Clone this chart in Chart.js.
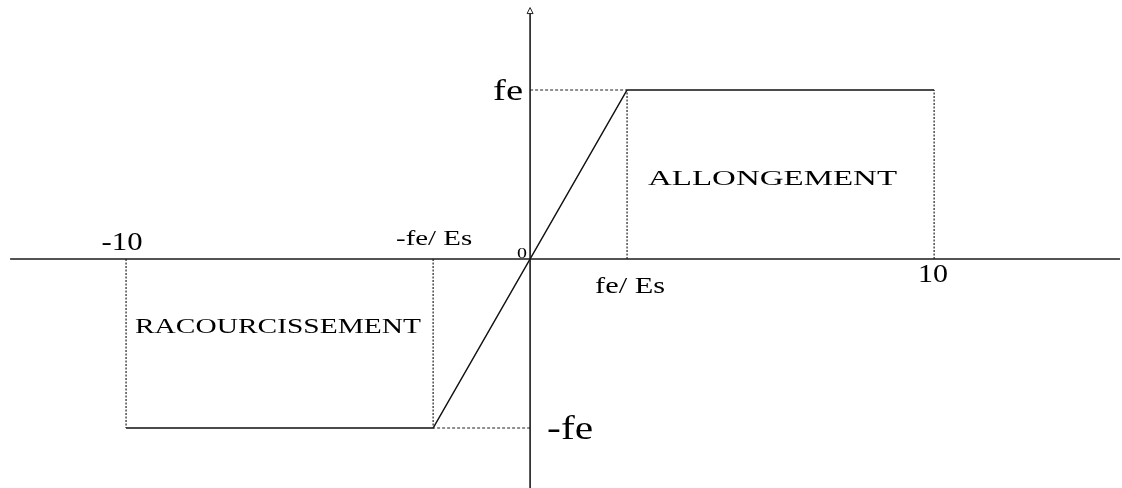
<!DOCTYPE html>
<html>
<head>
<meta charset="utf-8">
<script src="https://cdn.jsdelivr.net/npm/chart.js@4"></script>
<style>
  html, body { margin: 0; padding: 0; background: #fff; }
  #wrap { width: 1122px; height: 488px; }
</style>
</head>
<body>
<div id="wrap"><canvas id="lawChart"></canvas></div>
<script>
// Strain (per mille) and stress (fe = 1) at the corners of the steel law
const strainPoints = [-10, -2.4, 2.4, 10];
const stressPoints = [-1, -1, 1, 1];
const strainLabels = ["-10", "-fe/ Es", "fe/ Es", "10"];
const stressLabels = ["-fe", "fe"];
const stressValues = [-1, 1];
const regionLabels = ["RACOURCISSEMENT", "ALLONGEMENT"];
const regionCenters = [{ x: -6.24, y: -0.44 }, { x: 6.0, y: 0.44 }];

// Axis extents (data units)
const xAxisEnds = [-12.87, 14.6];
const yAxisEnds = [-1.5, 1.47];

// Build the guide segments from the corner arrays
const lawLine = strainPoints.map((x, i) => ({ x: x, y: stressPoints[i] }));

const dottedSets = strainPoints.map((x, i) => ({
  data: [{ x: x, y: 0 }, { x: x, y: stressPoints[i] }],
  borderColor: "#222",
  borderWidth: 1.2,
  borderDash: [2, 1.5],
}));

const dashedSets = [1, 2].map((i) => ({
  data: [{ x: 0, y: stressPoints[i] }, { x: strainPoints[i], y: stressPoints[i] }],
  borderColor: "#222",
  borderWidth: 1.2,
  borderDash: [3, 2],
}));

const axisSets = [
  { data: [{ x: xAxisEnds[0], y: 0 }, { x: xAxisEnds[1], y: 0 }], borderColor: "#1a1a1a", borderWidth: 1.6 },
  { data: [{ x: 0, y: yAxisEnds[0] }, { x: 0, y: yAxisEnds[1] }], borderColor: "#1a1a1a", borderWidth: 1.6 },
];

// label placement: offsets in pixels from the anchor point
const strainLabelStyle = [
  { dx: -4, dy: -9, size: 25, width: 41 },
  { dx: 1, dy: -14, size: 22, width: 76 },
  { dx: 3, dy: 34, size: 23, width: 70 },
  { dx: -1, dy: 23, size: 25, width: 30 },
];
const stressLabelStyle = [
  { dx: 40, dy: 11, size: 34, width: 46 },
  { dx: -22, dy: 10, size: 29, width: 30 },
];
const regionLabelStyle = [
  { size: 21, width: 286 },
  { size: 22, width: 249 },
];

function drawStretched(ctx, text, cx, baseline, size, width) {
  ctx.save();
  ctx.font = size + 'px "Liberation Serif", "DejaVu Serif", serif';
  const natural = ctx.measureText(text).width;
  ctx.translate(cx, baseline);
  ctx.scale(width / natural, 1);
  ctx.textAlign = "center";
  ctx.textBaseline = "alphabetic";
  ctx.fillStyle = "#000";
  ctx.fillText(text, 0, 0);
  ctx.restore();
}

const labelPlugin = {
  id: "labelPlugin",
  afterDatasetsDraw(chart) {
    const ctx = chart.ctx;
    const xs = chart.scales.x;
    const ys = chart.scales.y;

    // arrow head on the stress axis
    const ax = xs.getPixelForValue(0);
    const ay = ys.getPixelForValue(yAxisEnds[1]);
    ctx.save();
    ctx.strokeStyle = "#222";
    ctx.fillStyle = "#fff";
    ctx.lineWidth = 1;
    ctx.beginPath();
    ctx.moveTo(ax, ay - 3);
    ctx.lineTo(ax - 3, ay + 3);
    ctx.lineTo(ax + 3, ay + 3);
    ctx.closePath();
    ctx.fill();
    ctx.stroke();
    ctx.restore();

    strainLabels.forEach((t, i) => {
      const s = strainLabelStyle[i];
      drawStretched(ctx, t, xs.getPixelForValue(strainPoints[i]) + s.dx,
        ys.getPixelForValue(0) + s.dy, s.size, s.width);
    });

    stressLabels.forEach((t, i) => {
      const s = stressLabelStyle[i];
      drawStretched(ctx, t, xs.getPixelForValue(0) + s.dx,
        ys.getPixelForValue(stressValues[i]) + s.dy, s.size, s.width);
    });

    // origin
    drawStretched(ctx, "0", xs.getPixelForValue(0) - 8, ys.getPixelForValue(0) - 1, 14, 10);

    regionLabels.forEach((t, i) => {
      const s = regionLabelStyle[i];
      const c = regionCenters[i];
      drawStretched(ctx, t, xs.getPixelForValue(c.x), ys.getPixelForValue(c.y), s.size, s.width);
    });
  },
};

const ctx = document.getElementById("lawChart").getContext("2d");

new Chart(ctx, {
  type: "scatter",
  data: {
    datasets: [
      ...axisSets,
      ...dottedSets,
      ...dashedSets,
      { data: lawLine, borderColor: "#111", borderWidth: 1.5 },
    ].map((d) => Object.assign({ showLine: true, pointRadius: 0, fill: false }, d)),
  },
  options: {
    responsive: true,
    maintainAspectRatio: false,
    animation: false,
    layout: { padding: 0 },
    plugins: {
      legend: { display: false },
      tooltip: { enabled: false },
    },
    scales: {
      x: { type: "linear", min: -13.12, max: 14.65, display: false },
      y: { type: "linear", min: -1.355, max: 1.5325, display: false },
    },
  },
  plugins: [labelPlugin],
});
</script>
</body>
</html>
